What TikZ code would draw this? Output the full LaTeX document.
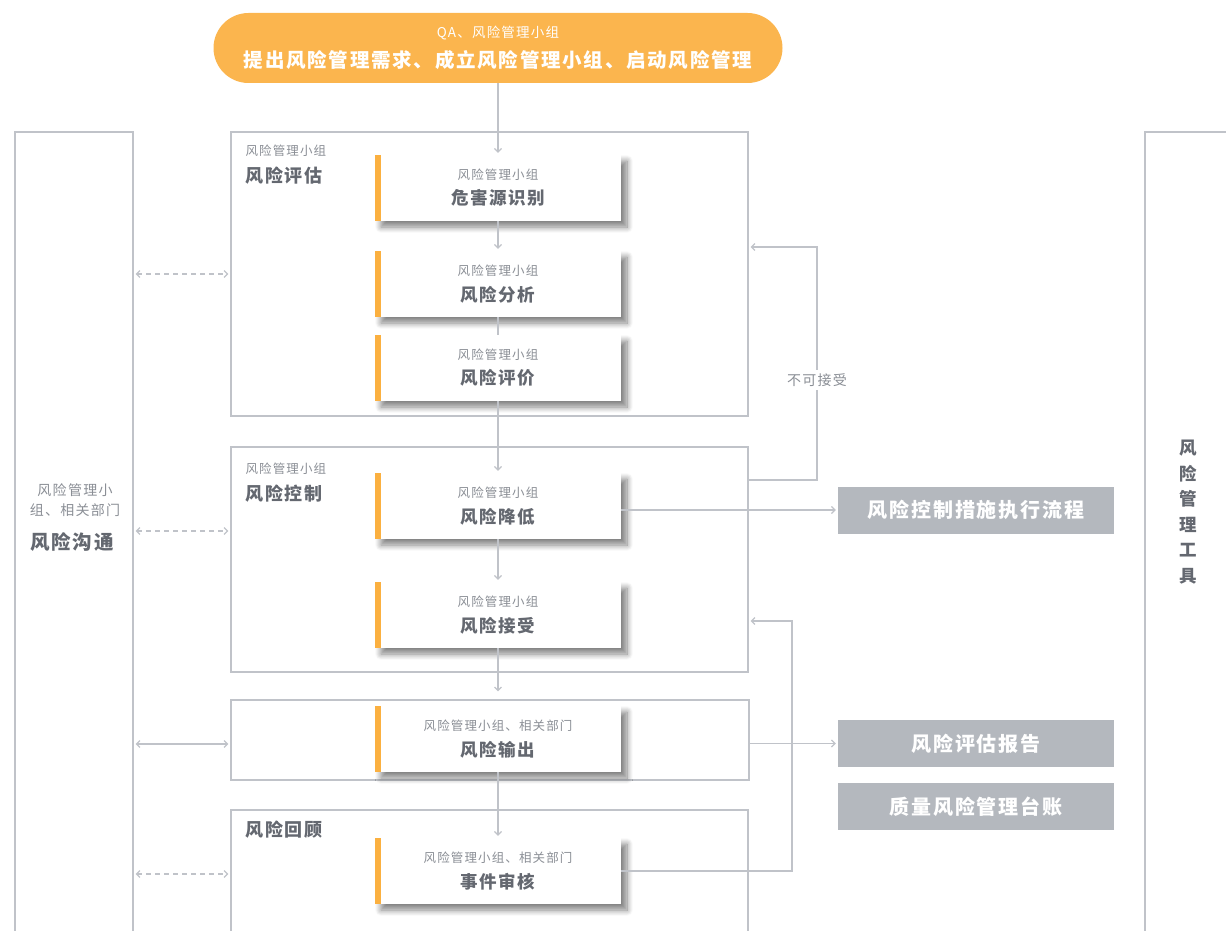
\documentclass[tikz,border=0pt]{standalone}
\usepackage{fontspec}
\setmainfont[LetterSpace=9]{Noto Sans CJK SC}
\usetikzlibrary{shadows.blur,arrows.meta}
\definecolor{pillorange}{RGB}{251,181,78}
\definecolor{barorange}{RGB}{251,176,64}
\definecolor{linegray}{RGB}{192,195,201}
\definecolor{textdark}{RGB}{100,104,112}
\definecolor{textlight}{RGB}{138,142,149}
\definecolor{toolgray}{RGB}{180,184,190}
\newcommand\cardtext[2]{{\fontsize{12.5}{14}\selectfont\color{textlight}#1}\\[8pt]{\fontsize{17.5}{20}\selectfont\bfseries #2}}
\begin{document}
\begin{tikzpicture}[x=1pt,y=-1pt,>={Straight Barb[length=3.5pt,width=7pt]},
    frame/.style={draw=linegray,line width=1.2pt,inner sep=0pt},
    card/.style={fill=white,minimum width=246pt,minimum height=66pt,inner sep=0pt,
      align=center,text=textdark,
      blur shadow={shadow xshift=6pt,shadow yshift=-6pt,shadow blur radius=6pt,
        shadow blur steps=10,shadow opacity=50},
      path picture={\fill[barorange] (path picture bounding box.north west)
        rectangle ([xshift=6pt]path picture bounding box.south west);}},
    tool/.style={fill=toolgray,text=white,minimum width=276pt,minimum height=47pt,
      font=\fontsize{20}{22}\selectfont\bfseries},
    tag/.style={anchor=west,text=textlight,font=\fontsize{12.5}{14}\selectfont},
    title/.style={anchor=west,text=textdark,font=\fontsize{18}{20}\selectfont\bfseries},
    link/.style={draw=linegray,line width=1.2pt},
    arrow/.style={link,->,shorten >=2pt},
    dlink/.style={link,<->,shorten >=2pt,shorten <=2pt,dash pattern=on 5pt off 4pt}]
  \useasboundingbox (0,0) rectangle (1226,931);
  \clip (0,0) rectangle (1226,931);
  \path (498,48) node[fill=pillorange,rounded corners=35pt,minimum width=569pt,minimum height=70pt,
          text=white,align=center] (start)
          {{\fontsize{13.5}{15}\selectfont QA、风险管理小组}\\[9pt]{\fontsize{19.5}{22}\selectfont\bfseries 提出风险管理需求、成立风险管理小组、启动风险管理}}
        (74,566)    node[frame,minimum width=118pt,minimum height=868pt] (comm) {}
        (1222.5,566) node[frame,minimum width=155pt,minimum height=868pt] (tools) {}
        (489.5,274) node[frame,minimum width=517pt,minimum height=284pt] (assess) {}
        (489.5,559.5) node[frame,minimum width=517pt,minimum height=225pt] (control) {}
        (490,740)   node[frame,minimum width=518pt,minimum height=80pt] (outbox) {}
        (489.5,905) node[frame,minimum width=517pt,minimum height=190pt] (review) {};
  \path (75,500) node[text=textlight,align=center,font=\fontsize{14}{20}\selectfont] (commtag) {风险管理小\\组、相关部门}
        (72,542) node[text=textdark,font=\fontsize{19.5}{20}\selectfont\bfseries] (commtitle) {风险沟通}
        (1188,512) node[text=textdark,align=center,font=\fontsize{17.5}{25.5}\selectfont\bfseries] (tooltitle) {风\\险\\管\\理\\工\\具}
        (242,151) node[tag] (assesstag) {风险管理小组}
        (242,176) node[title] (assesstitle) {风险评估}
        (242,469) node[tag] (controltag) {风险管理小组}
        (242,494) node[title] (controltitle) {风险控制}
        (242,830) node[title] (reviewtitle) {风险回顾};
  \path (498,188) node[card] (card1) {\cardtext{风险管理小组}{危害源识别}}
        (498,284) node[card] (card2) {\cardtext{风险管理小组}{风险分析}}
        (498,368) node[card] (card3) {\cardtext{风险管理小组}{风险评价}}
        (498,506) node[card] (card4) {\cardtext{风险管理小组}{风险降低}}
        (498,615) node[card] (card5) {\cardtext{风险管理小组}{风险接受}}
        (498,739) node[card] (card6) {\cardtext{风险管理小组、相关部门}{风险输出}}
        (498,871) node[card] (card7) {\cardtext{风险管理小组、相关部门}{事件审核}};
  \path (976,510) node[tool] (flow) {风险控制措施执行流程}
        (976,743.5) node[tool] (report) {风险评估报告}
        (976,806.5) node[tool] (ledger) {质量风险管理台账};
  \draw[arrow] (start) -- (card1);
  \draw[arrow] (card1) -- (card2);
  \draw[link] (card2) -- (card3);
  \draw[arrow] (card3) -- (card4);
  \draw[arrow] (card4) -- (card5);
  \draw[arrow] (card5) -- ([yshift=6pt]outbox.north -| card5);
  \draw[arrow] (card6) -- (card7);
  \draw[dlink] (comm.east |- assess.west) -- (assess.west);
  \draw[dlink] (comm.east |- 0,531) -- (control.west |- 0,531);
  \draw[link,<->,shorten >=2pt,shorten <=2pt] (comm.east |- 0,744) -- (outbox.west |- 0,744);
  \draw[dlink] (comm.east |- 0,874) -- (review.west |- 0,874);
  \draw[arrow] (control.east |- 0,480) -- (817,480)
    -- node[pos=0.43,fill=white,text=textlight,font=\fontsize{14}{15}\selectfont] (reject) {不可接受} (817,247)
    -- (assess.east |- 0,247);
  \draw[arrow] (card4.east |- flow.west) -- (flow.west);
  \draw[arrow] (outbox.east |- report.west) -- (report.west);
  \draw[arrow] (card7.east) -- (792,871) |- (control.east |- 0,621);
\end{tikzpicture}
\end{document}
